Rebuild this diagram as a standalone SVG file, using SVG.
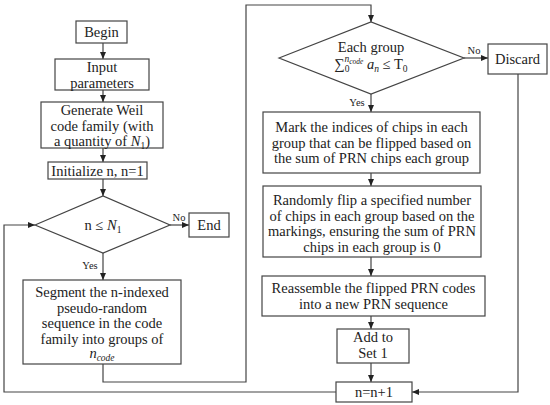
<svg xmlns="http://www.w3.org/2000/svg" width="550" height="405" viewBox="0 0 550 405" font-family="'Liberation Serif', 'DejaVu Serif', serif">
<style>
.box{fill:#fff;stroke:#444;stroke-width:1.2}
.ln{fill:none;stroke:#444;stroke-width:1.2}
.t{font-family:'Liberation Serif','DejaVu Serif',serif;font-size:14.5px;fill:#222;text-anchor:middle}
.sm{font-size:10.5px}
.it{font-style:italic}
</style>
<defs>
<marker id="ah" markerWidth="8" markerHeight="8" refX="7" refY="4" orient="auto" markerUnits="userSpaceOnUse">
<path d="M0,1 L7,4 L0,7 Z" fill="#222"/>
</marker>
</defs>
<rect width="550" height="405" fill="#fff"/>
<g id="connectors">
<line class="ln" x1="103" y1="43" x2="103" y2="59" marker-end="url(#ah)"/>
<line class="ln" x1="103" y1="90" x2="103" y2="102" marker-end="url(#ah)"/>
<line class="ln" x1="103" y1="148" x2="103" y2="162" marker-end="url(#ah)"/>
<line class="ln" x1="103" y1="179" x2="103" y2="196" marker-end="url(#ah)"/>
<line class="ln" x1="170" y1="225" x2="189" y2="225" marker-end="url(#ah)"/>
<line class="ln" x1="103" y1="253" x2="103" y2="280" marker-end="url(#ah)"/>
<polyline class="ln" points="103,364 103,382 246,382 246,5 371,5 371,22" marker-end="url(#ah)"/>
<line class="ln" x1="464" y1="58" x2="488" y2="58" marker-end="url(#ah)"/>
<line class="ln" x1="371" y1="94" x2="371" y2="112" marker-end="url(#ah)"/>
<line class="ln" x1="371" y1="173" x2="371" y2="186" marker-end="url(#ah)"/>
<line class="ln" x1="371" y1="257" x2="371" y2="276" marker-end="url(#ah)"/>
<line class="ln" x1="371" y1="316" x2="371" y2="329" marker-end="url(#ah)"/>
<line class="ln" x1="371" y1="363" x2="371" y2="382" marker-end="url(#ah)"/>
<polyline class="ln" points="518,74 518,392 412,392" marker-end="url(#ah)"/>
<polyline class="ln" points="336,392 4,392 4,225 35,225" marker-end="url(#ah)"/>
<text class="t sm" x="179" y="221">No</text>
<text class="t sm" x="90" y="269">Yes</text>
<text class="t sm" x="474" y="54">No</text>
<text class="t sm" x="357" y="106">Yes</text>
</g>
<g id="begin">
<rect class="box" x="76" y="21" width="51" height="22"/>
<text class="t" x="101.5" y="37">Begin</text>
</g>
<g id="input">
<rect class="box" x="55" y="59" width="94" height="31"/>
<text class="t" x="102" y="72">Input</text>
<text class="t" x="102" y="87.5">parameters</text>
</g>
<g id="generate">
<rect class="box" x="41" y="102" width="122" height="46"/>
<text class="t" x="102" y="115">Generate Weil</text>
<text class="t" x="102" y="130.5">code family (with</text>
<text class="t" x="102" y="146">a quantity of <tspan class="it">N</tspan><tspan font-size="9.5" dy="3">1</tspan><tspan dy="-3">)</tspan></text>
</g>
<g id="init">
<rect class="box" x="48" y="162" width="99" height="17"/>
<text class="t" x="97.5" y="175.5">Initialize n, n=1</text>
</g>
<g id="cond1">
<polygon class="box" points="35,225 103,196 170,225 103,253"/>
<text class="t" x="103" y="230">n ≤ <tspan class="it">N</tspan><tspan font-size="9.5" dy="3">1</tspan></text>
</g>
<g id="end">
<rect class="box" x="189" y="213" width="40" height="24"/>
<text class="t" x="209" y="230">End</text>
</g>
<g id="segment">
<rect class="box" x="23" y="280" width="158" height="84"/>
<text class="t" x="102" y="297">Segment the n-indexed</text>
<text class="t" x="102" y="312.5">pseudo-random</text>
<text class="t" x="102" y="328">sequence in the code</text>
<text class="t" x="102" y="343.5">family into groups of</text>
<text class="t it" x="102" y="358">n<tspan font-size="9.5" dy="3">code</tspan></text>
</g>
<g id="cond2">
<polygon class="box" points="279,58 371,22 464,58 371,94"/>
<text class="t" x="371" y="52">Each group</text>
<text class="t" x="371" y="69">∑<tspan font-size="9.5" dy="3">0</tspan><tspan font-size="9.5" dx="-5" dy="-10" class="it">n</tspan><tspan font-size="7.5" dy="2" class="it">code</tspan><tspan dy="5" class="it"> a</tspan><tspan font-size="9.5" dy="3" class="it">n</tspan><tspan dy="-3"> ≤ T</tspan><tspan font-size="9.5" dy="3">0</tspan></text>
</g>
<g id="discard">
<rect class="box" x="488" y="44" width="59" height="30"/>
<text class="t" x="517.5" y="64">Discard</text>
</g>
<g id="mark">
<rect class="box" x="263" y="112" width="217" height="61"/>
<text class="t" x="371.5" y="132">Mark the indices of chips in each</text>
<text class="t" x="371.5" y="147.5">group that can be flipped based on</text>
<text class="t" x="371.5" y="163">the sum of PRN chips each group</text>
</g>
<g id="flip">
<rect class="box" x="263" y="186" width="218" height="71"/>
<text class="t" x="372" y="205">Randomly flip a specified number</text>
<text class="t" x="372" y="220.5">of chips in each group based on the</text>
<text class="t" x="372" y="236">markings, ensuring the sum of PRN</text>
<text class="t" x="372" y="251.5">chips in each group is 0</text>
</g>
<g id="reassemble">
<rect class="box" x="262" y="276" width="223" height="40"/>
<text class="t" x="373.5" y="293">Reassemble the flipped PRN codes</text>
<text class="t" x="373.5" y="308.5">into a new PRN sequence</text>
</g>
<g id="add">
<rect class="box" x="337" y="329" width="72" height="34"/>
<text class="t" x="373" y="342">Add to</text>
<text class="t" x="373" y="357.5">Set 1</text>
</g>
<g id="incr">
<rect class="box" x="336" y="382" width="76" height="20"/>
<text class="t" x="374" y="397">n=n+1</text>
</g>
</svg>
